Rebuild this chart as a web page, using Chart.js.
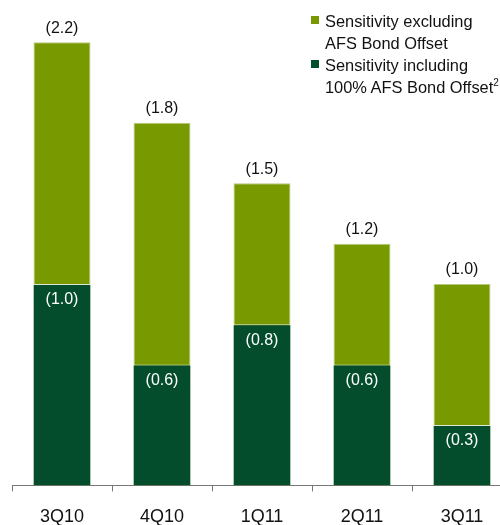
<!DOCTYPE html>
<html>
<head>
<meta charset="utf-8">
<script src="https://cdn.jsdelivr.net/npm/chart.js@4.4.1/dist/chart.umd.min.js"></script>
<style>
  html, body { margin: 0; padding: 0; background: #fff; overflow: hidden; width: 500px; height: 525px; }
  #wrap { position: relative; width: 520px; height: 543px; }
  #legend { position: absolute; left: 311px; top: 10px; font-family: "Liberation Sans", Arial, sans-serif; font-size: 16.4px; color: #111; line-height: 22px; }
  #legend .item { position: relative; padding-left: 14px; margin-bottom: 0px; }
  #legend .box { position: absolute; left: 0; top: 6px; width: 8px; height: 8px; }
  #legend sup { font-size: 10px; line-height: 0; vertical-align: 7px; }
</style>
</head>
<body>
<div id="wrap">
  <canvas id="sensChart"></canvas>
  <div id="legend">
    <div class="item"><span class="box" style="background:#789A00"></span>Sensitivity excluding<br>AFS Bond Offset</div>
    <div class="item"><span class="box" style="background:#034D2C"></span>Sensitivity including<br>100% AFS Bond Offset<sup>2</sup></div>
  </div>
</div>
<script>
// Quarter labels and sensitivity values
var quarters = ['3Q10', '4Q10', '1Q11', '2Q11', '3Q11'];
var excludingOffset = [2.2, 1.8, 1.5, 1.2, 1.0];
var includingOffset = [1.0, 0.6, 0.8, 0.6, 0.3];

var lightGreen = '#789A00';
var darkGreen = '#034D2C';

function fmt(v) {
    return '(' + v.toFixed(1) + ')';
}

// Write the value labels: above the light bars, inside the dark bars
var valueLabels = {
    id: 'valueLabels',
    afterDatasetsDraw: function (chart) {
        var ctx = chart.ctx;
        ctx.save();
        ctx.font = '16px "Liberation Sans", Arial, sans-serif';
        ctx.textAlign = 'center';
        chart.data.datasets.forEach(function (ds, i) {
            var meta = chart.getDatasetMeta(i);
            meta.data.forEach(function (bar, j) {
                if (ds.label.indexOf('excluding') >= 0) {
                    ctx.fillStyle = '#111';
                    ctx.textBaseline = 'middle';
                    ctx.fillText(fmt(ds.data[j]), bar.x, bar.y - 14);
                } else {
                    ctx.fillStyle = '#fff';
                    ctx.textBaseline = 'middle';
                    ctx.fillText(fmt(ds.data[j]), bar.x, bar.y + 16);
                }
            });
        });
        ctx.restore();
    }
};

var ctx = document.getElementById('sensChart').getContext('2d');
window.myChart = new Chart(ctx, {
    type: 'bar',
    data: {
        labels: quarters,
        datasets: [{
            label: 'Sensitivity including 100% AFS Bond Offset',
            data: includingOffset,
            backgroundColor: darkGreen,
            borderColor: '#dfe8d4',
            borderWidth: { top: 1, left: 0, right: 0, bottom: 0 },
            borderSkipped: false,
            order: 0
        }, {
            label: 'Sensitivity excluding AFS Bond Offset',
            data: excludingOffset,
            backgroundColor: lightGreen,
            borderColor: '#b5c97a',
            borderWidth: { top: 1, left: 1, right: 1, bottom: 0 },
            borderSkipped: false,
            order: 1
        }]
    },
    options: {
        responsive: true,
        maintainAspectRatio: false,
        animation: false,
        grouped: false,
        categoryPercentage: 1.0,
        barPercentage: 0.57,
        layout: { padding: { left: 12, right: 8, top: 2, bottom: 0 } },
        plugins: {
            legend: { display: false },
            tooltip: { enabled: false }
        },
        scales: {
            x: {
                grid: {
                    drawOnChartArea: false,
                    drawTicks: true,
                    tickLength: 6,
                    color: '#777',
                    offset: true
                },
                border: { display: true, color: '#777', width: 1 },
                ticks: {
                    color: '#111',
                    padding: 15,
                    font: { family: '"Liberation Sans", Arial, sans-serif', size: 18 }
                }
            },
            y: {
                display: false,
                min: 0,
                max: 2.4
            }
        }
    },
    plugins: [valueLabels]
});
</script>
</body>
</html>
